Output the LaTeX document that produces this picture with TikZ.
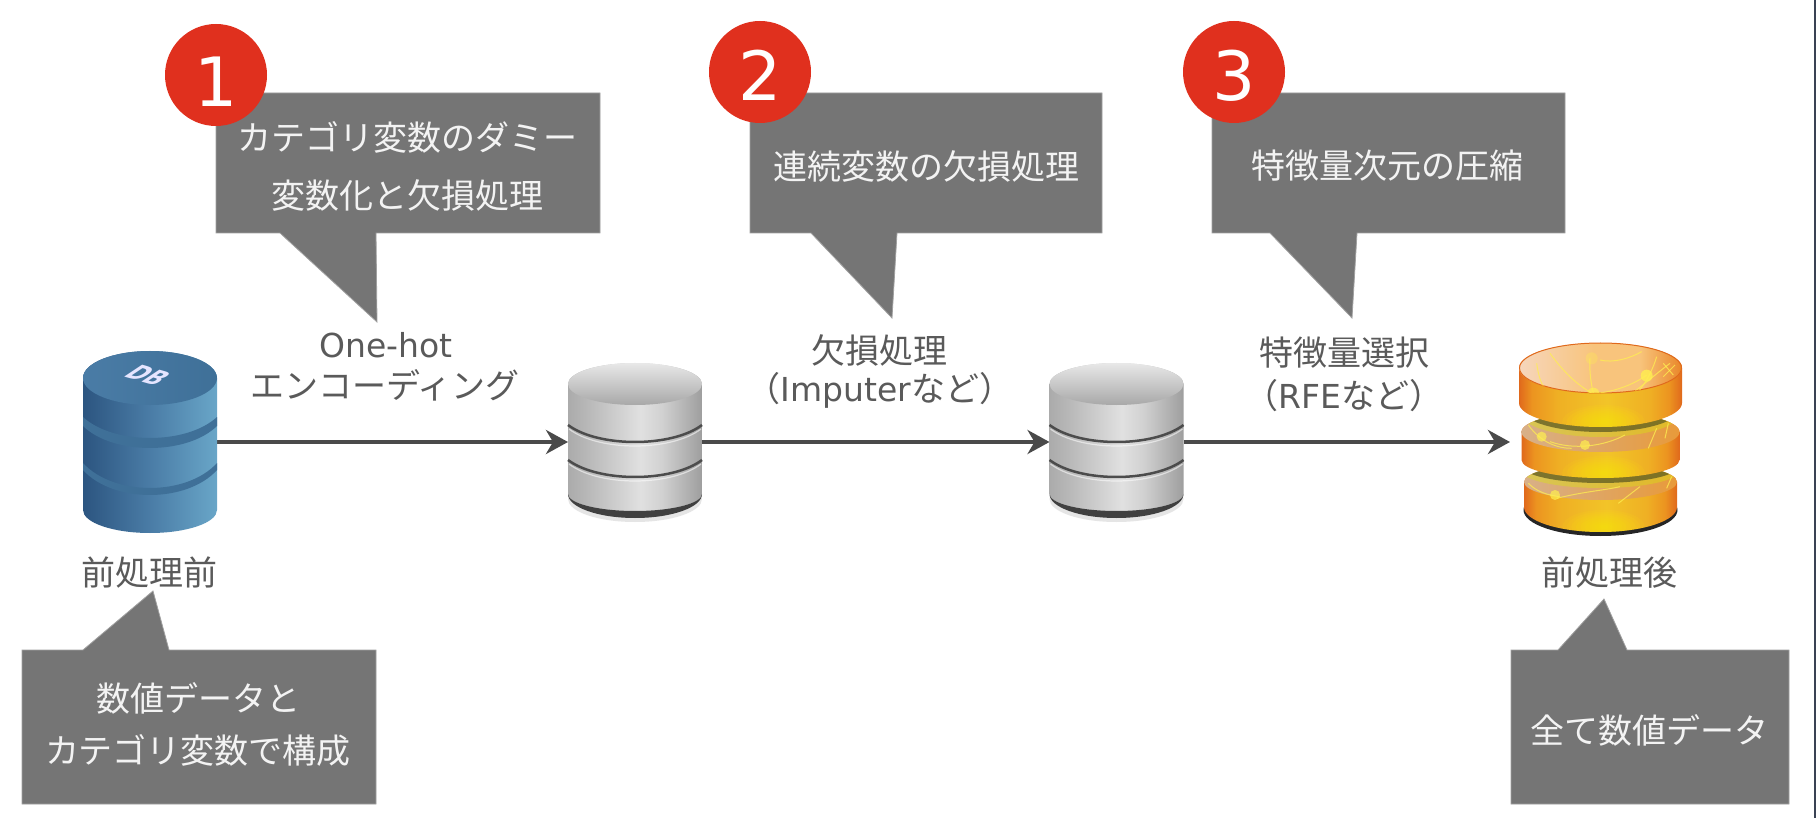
\documentclass[tikz,border=0pt]{standalone}
\usepackage{fontspec}
\usetikzlibrary{arrows.meta}
\newfontfamily\jp{Noto Sans CJK JP}
\newfontfamily\la{DejaVu Sans}
\newcommand{\latin}[1]{{\la\fontsize{33}{33}\selectfont #1}}
\definecolor{boxgray}{HTML}{757575}
\definecolor{boxedge}{HTML}{A0A0A0}
\definecolor{boxtext}{HTML}{F3F3F3}
\definecolor{labeltext}{HTML}{5A5A5A}
\definecolor{arrowgray}{HTML}{4A4A4A}
\definecolor{dotred}{HTML}{E0301E}
\definecolor{sidebar}{HTML}{3A4254}
\definecolor{bluea}{HTML}{2C5580}
\definecolor{blueb}{HTML}{4A7CA6}
\definecolor{bluec}{HTML}{69A6C8}
\definecolor{blueband}{HTML}{3F7098}
\definecolor{orangea}{HTML}{E0691C}
\definecolor{orangeb}{HTML}{EC9420}
\definecolor{orangec}{HTML}{EFB024}
\definecolor{oranged}{HTML}{F2C428}
\definecolor{toppale}{HTML}{F6D6BC}
\definecolor{topmid}{HTML}{F8C47C}
\definecolor{toporange}{HTML}{E98628}
\definecolor{vein}{HTML}{FFEF50}
\definecolor{olive}{HTML}{5E5A22}
\definecolor{surfl}{HTML}{D8B088}
\definecolor{surfr}{HTML}{E89A3A}
\pgfdeclarehorizontalshading{grayside}{100bp}{color(0bp)=(black!33);color(25bp)=(black!33);color(32bp)=(black!28);color(52bp)=(black!12);color(60bp)=(black!18);color(75bp)=(black!38);color(100bp)=(black!38)}
\pgfdeclarehorizontalshading{blueside}{100bp}{color(0bp)=(bluea);color(25bp)=(bluea);color(50bp)=(blueb);color(75bp)=(bluec);color(100bp)=(bluec)}
\pgfdeclarehorizontalshading{orangeside}{100bp}{color(0bp)=(orangea);color(25bp)=(orangea);color(29bp)=(orangeb);color(37bp)=(orangec);color(52bp)=(oranged);color(65bp)=(orangec);color(71bp)=(orangeb);color(75bp)=(orangea);color(100bp)=(orangea)}
\pgfdeclarehorizontalshading{orangetop}{100bp}{color(0bp)=(toppale);color(25bp)=(toppale);color(48bp)=(topmid);color(62bp)=(topmid);color(75bp)=(toporange);color(100bp)=(toporange)}
% #1 cx, #2 half width, #3 top of side, #4 bottom of side, #5 top radius, #6 bottom radius
\newcommand{\cylside}[6]{(#1-#2,#3) -- (#1-#2,#4) arc[start angle=180,end angle=360,x radius=#2 pt,y radius=#6 pt] -- (#1+#2,#3) arc[start angle=0,end angle=180,x radius=#2 pt,y radius=#5 pt] -- cycle}
% lower rim as a soft curve: cx, w, y at the ends, depth at the middle
\newcommand{\rim}[4]{(#1-#2,#3) .. controls (#1-#2*.55,#3+#4*1.333) and (#1+#2*.55,#3+#4*1.333) .. (#1+#2,#3)}
% band between two soft rims: cx, w, y1, depth1, y2, depth2
\newcommand{\band}[6]{(#1-#2,#3) .. controls (#1-#2*.55,#3+#4*1.333) and (#1+#2*.55,#3+#4*1.333) .. (#1+#2,#3) -- (#1+#2,#5) .. controls (#1+#2*.55,#5+#6*1.333) and (#1-#2*.55,#5+#6*1.333) .. (#1-#2,#5) -- cycle}
\newcommand{\graydb}[1]{%
  \fill[black!10] (#1,499) ellipse [x radius=67pt,y radius=23pt];
  \shade[shading=grayside] \cylside{#1}{67}{384}{494}{21}{17};
  \fill[black!75] (#1-67,494) arc[start angle=180,end angle=360,x radius=67pt,y radius=24pt] -- (#1+67,494) arc[start angle=360,end angle=180,x radius=67pt,y radius=17pt] -- cycle;
  \draw[black!70,line width=2.5pt] \rim{#1}{67}{425}{17};
  \draw[white,opacity=.55,line width=1.2pt] \rim{#1}{66}{429}{17};
  \draw[black!70,line width=2.5pt] \rim{#1}{67}{460}{17};
  \draw[white,opacity=.55,line width=1.2pt] \rim{#1}{66}{464}{17};
  \shade[top color=black!9,bottom color=black!34] (#1,384) ellipse [x radius=67pt,y radius=21pt];
}
% orange disc: cx,w,ysurface,ry,yside,rybottom
\newcommand{\orangedisc}[6]{%
  \shade[shading=orangeside] \cylside{#1}{#2}{#3}{#5}{#4}{#6};
  \begin{scope}
    \clip \cylside{#1}{#2}{#3}{#5}{#4}{#6};
    \foreach \k in {1,...,9}
      \fill[yellow,opacity=.08] (#1+3,#5+#6-5) ellipse [x radius={\k*4.6pt},y radius={\k*1.9pt}];
  \end{scope}
}
% visible top of a lower disc, with the shade of the disc above: cx,w,y,ry,upper side y,upper ry
\newcommand{\orangesurf}[6]{%
  \shade[left color=surfl,right color=surfr] (#1,#3) ellipse [x radius=#2 pt,y radius=#4 pt];
  \begin{scope}
    \clip (#1,#3) ellipse [x radius=#2 pt,y radius=#4 pt];
    \fill[yellow!85!green,opacity=.4] (#1,#5+10) ellipse [x radius=80pt,y radius=#6 pt];
    \fill[olive,opacity=.75] (#1,#5+5) ellipse [x radius=80pt,y radius=#6 pt];
  \end{scope}
}
\tikzset{
  callout/.style={fill=boxgray,draw=boxedge,line width=.8pt,line join=miter},
  boxlabel/.style={font=\jp\fontsize{34}{34}\selectfont,text=boxtext,inner sep=0pt,align=center},
  plainlabel/.style={font=\jp\fontsize{34}{34}\selectfont,text=labeltext,inner sep=0pt,align=center},
  numdot/.style={circle,fill=dotred,minimum size=102pt,inner sep=0pt,text=white,font=\la\fontsize{68}{68}\selectfont},
  dbanchor/.style={rectangle,inner sep=0pt,outer sep=0pt,minimum height=180pt},
  flow/.style={draw=arrowgray,line width=4pt,-{Stealth[length=22pt,width=24pt,inset=7pt,fill=arrowgray]}},
  veinl/.style={draw=vein,line width=1pt,opacity=.75},
}
\begin{document}
\begin{tikzpicture}[x=1pt,y=-1pt]
\useasboundingbox (0,0) rectangle (1816,818);
\fill[white] (0,0) rectangle (1816,818);
\fill[sidebar] (1814,0) rectangle (1816,818);

% anchors for the four databases
\node[dbanchor,minimum width=134pt] (db1) at (150,442) {};
\node[dbanchor,minimum width=134pt] (db2) at (635,442) {};
\node[dbanchor,minimum width=134pt] (db3) at (1116.5,442) {};
\node[dbanchor,minimum width=180pt] (db4) at (1600,442) {};

% connectors
\draw[flow] (db1.east) -- (db2.west);
\draw[flow] (db2.east) -- (db3.west);
\draw[flow] (db3.east) -- (db4.west);

% blue database
\shade[shading=blueside] \cylside{150}{67}{378}{510}{27}{23};
\fill[blueband] \band{150}{67}{417}{21}{426}{22};
\fill[blueband] \band{150}{67}{463}{25}{470}{25};
\shade[left color=blueb,right color=blueband] (150,378) ellipse [x radius=67pt,y radius=27pt];
\node[text=white!90!blue,font=\la\bfseries\fontsize{15}{15}\selectfont,inner sep=0pt,transform shape,cm={1.4,-.4,1.64,1.09,(0,0)}] (dbtext) at (148,375) {DB};

% gray databases
\graydb{635}
\graydb{1116.5}

% orange database
\fill[black!85] (1600.5,510) ellipse [x radius=77pt,y radius=26pt];
\orangedisc{1600.5}{76.5}{482}{18}{507}{25}
\orangesurf{1600.5}{76.5}{482}{18}{460}{18}
\orangedisc{1600.5}{79}{432}{20}{460}{18}
\orangesurf{1600.5}{79}{432}{20}{403}{24}
\orangedisc{1600.5}{81.5}{368}{25}{403}{24}
\shade[shading=orangetop] (1600.5,368) ellipse [x radius=81.5pt,y radius=25pt];
\draw[orangea,line width=1pt] (1600.5,368) ellipse [x radius=81pt,y radius=25pt];
\begin{scope}[shift={(1500,335)},x=.3333pt,y=-.3333pt]
  \clip (301.5,99) ellipse [x radius=81pt,y radius=25pt];
  \draw[veinl] (110,85) .. controls (115,120) and (122,145) .. (135,160);
  \draw[veinl] (150,55) .. controls (190,110) and (230,150) .. (285,180);
  \draw[veinl] (270,70) .. controls (268,110) and (272,140) .. (280,175);
  \draw[veinl] (300,75) .. controls (340,85) and (390,70) .. (425,50);
  \draw[veinl] (290,175) .. controls (340,170) and (400,150) .. (440,120);
  \draw[veinl] (510,85) .. controls (470,115) and (430,150) .. (390,180);
  \draw[veinl] (470,65) .. controls (460,100) and (440,140) .. (415,170);
  \draw[veinl] (525,90) -- (490,125);
  \draw[veinl] (490,85) -- (520,120);
  \fill[vein,opacity=.3] (275,70) circle [radius=6pt];
  \fill[vein,opacity=.8] (440,122) circle [radius=6pt];
  \fill[vein,opacity=.7] (280,176) circle [radius=6pt];
\end{scope}
\begin{scope}[shift={(1500,335)},x=.3333pt,y=-.3333pt]
  \fill[vein,opacity=.7] (125,305) circle [radius=5pt];
  \fill[vein,opacity=.7] (255,330) circle [radius=5pt];
  \fill[vein,opacity=.7] (165,480) circle [radius=5pt];
  \draw[veinl] (85,270) .. controls (120,320) and (170,340) .. (215,340);
  \draw[veinl] (150,320) .. controls (220,345) and (310,335) .. (375,300);
  \draw[veinl] (445,340) -- (470,280);
  \draw[veinl] (495,310) -- (505,265);
  \draw[veinl] (85,445) .. controls (110,470) and (140,480) .. (180,485);
  \draw[veinl] (170,490) .. controls (250,470) and (320,465) .. (360,455);
  \draw[veinl] (355,505) -- (420,455);
  \draw[veinl] (500,460) -- (515,425);
\end{scope}

% callouts
\path[callout] (216,93) -- (600,93) -- (600,233) -- (376,233) -- (377,322) -- (280,233) -- (216,233) -- cycle;
\path[callout] (750,93) -- (1102,93) -- (1102,233) -- (897,233) -- (892,318) -- (811,233) -- (750,233) -- cycle;
\path[callout] (1212,93) -- (1565,93) -- (1565,233) -- (1357,233) -- (1352,318) -- (1270,233) -- (1212,233) -- cycle;
\path[callout] (22,650) -- (83,650) -- (153,591) -- (169,650) -- (376,650) -- (376,804) -- (22,804) -- cycle;
\path[callout] (1511,650) -- (1558,650) -- (1604,599) -- (1627,650) -- (1789,650) -- (1789,804) -- (1511,804) -- cycle;

% numbered dots
\node[numdot] (n1) at (216,75) {\raisebox{-32pt}[0pt][0pt]{1}};
\node[numdot] (n2) at (760,72) {\raisebox{-29pt}[0pt][0pt]{2}};
\node[numdot] (n3) at (1234,72) {\raisebox{-29pt}[0pt][0pt]{3}};

% callout texts
\node[boxlabel] (c1a) at (407,137) {カテゴリ変数のダミー};
\node[boxlabel] (c1b) at (407,195) {変数化と欠損処理};
\node[boxlabel] (c2) at (926,166) {連続変数の欠損処理};
\node[boxlabel] (c3) at (1387,166) {特徴量次元の圧縮};
\node[boxlabel] (c4a) at (198,698) {数値データと};
\node[boxlabel] (c4b) at (198,750) {カテゴリ変数で構成};
\node[boxlabel] (c5) at (1649,730) {全て数値データ};

% plain labels
\node[plainlabel] (l1a) at (386,345) {\latin{One-hot}};
\node[plainlabel] (l1b) at (385,385) {エンコーディング};
\node[plainlabel] (l2a) at (879,350) {欠損処理};
\node[plainlabel] (l2b) at (880,390) {（\latin{Imputer}など）};
\node[plainlabel] (l3a) at (1344,353) {特徴量選択};
\node[plainlabel] (l3b) at (1344,396) {（\latin{RFE}など）};
\node[plainlabel] (l4) at (149,573) {前処理前};
\node[plainlabel] (l5) at (1609,573) {前処理後};
\end{tikzpicture}
\end{document}
